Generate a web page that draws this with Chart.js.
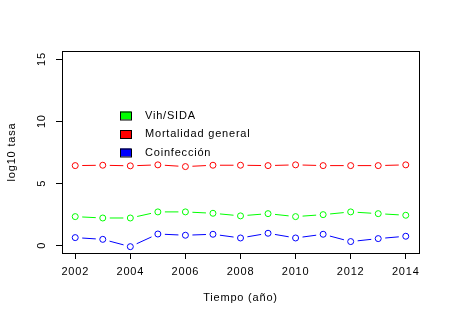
<!DOCTYPE html>
<html>
<head>
<meta charset="utf-8">
<script src="https://cdn.jsdelivr.net/npm/chart.js@4"></script>
<style>
  html, body { margin: 0; padding: 0; background: #fff; }
  #wrap { width: 452px; height: 316px; }
</style>
</head>
<body>
<div id="wrap"><canvas id="grafico"></canvas></div>
<script>
// años
var years = [2002, 2003, 2004, 2005, 2006, 2007, 2008, 2009, 2010, 2011, 2012, 2013, 2014];
// log10 tasa por serie
var vihSida    = [2.31, 2.20, 2.20, 2.69, 2.69, 2.58, 2.37, 2.55, 2.31, 2.47, 2.69, 2.55, 2.42];
var mortalidad = [6.42, 6.45, 6.40, 6.48, 6.34, 6.45, 6.45, 6.42, 6.48, 6.42, 6.42, 6.42, 6.48];
var coinfeccion = [0.62, 0.48, -0.11, 0.91, 0.81, 0.89, 0.59, 0.97, 0.59, 0.89, 0.30, 0.54, 0.73];
// etiquetas de los ejes
var xTicks = [2002, 2004, 2006, 2008, 2010, 2012, 2014];
var yTicks = [0, 5, 10, 15];
var seriesNames = ["Vih/SIDA", "Mortalidad general", "Coinfección"];
var seriesColors = ["#00ff00", "#ff0000", "#0000ff"];

var FONT = '11px "Liberation Sans", Arial, sans-serif';

function pts(vals) {
  return vals.map(function (v, i) { return { x: years[i], y: v }; });
}

// dibuja lineas tipo "b" de R (con huecos alrededor de los puntos), caja, leyenda y textos
var rStyle = {
  id: 'rStyle',
  afterDatasetsDraw: function (chart) {
    var ctx = chart.ctx;
    var a = chart.chartArea;
    var gap = 7;
    ctx.save();
    chart.data.datasets.forEach(function (ds, di) {
      var meta = chart.getDatasetMeta(di);
      ctx.strokeStyle = ds.borderColor;
      ctx.lineWidth = 1;
      for (var i = 0; i < meta.data.length - 1; i++) {
        var p = meta.data[i], q = meta.data[i + 1];
        var dx = q.x - p.x, dy = q.y - p.y;
        var len = Math.sqrt(dx * dx + dy * dy);
        if (len <= 2 * gap) continue;
        var ux = dx / len, uy = dy / len;
        ctx.beginPath();
        ctx.moveTo(p.x + ux * gap, p.y + uy * gap);
        ctx.lineTo(q.x - ux * gap, q.y - uy * gap);
        ctx.stroke();
      }
    });
    ctx.restore();
  },
  afterDraw: function (chart) {
    var ctx = chart.ctx;
    var a = chart.chartArea;
    var xs = chart.scales.x, ys = chart.scales.y;
    ctx.save();
    // caja
    ctx.strokeStyle = '#000';
    ctx.lineWidth = 1;
    ctx.strokeRect(Math.round(a.left) + 0.5, Math.round(a.top) + 0.5,
      Math.round(a.right - a.left), Math.round(a.bottom - a.top));

    ctx.fillStyle = '#000';
    ctx.font = FONT;
    ctx.letterSpacing = '0.8px';
    // etiquetas eje x
    ctx.textAlign = 'center';
    ctx.textBaseline = 'middle';
    xTicks.forEach(function (t) {
      ctx.fillText(String(t), xs.getPixelForValue(t), 272);
    });
    // etiquetas eje y (giradas)
    yTicks.forEach(function (t) {
      ctx.save();
      ctx.translate(42, ys.getPixelForValue(t));
      ctx.rotate(-Math.PI / 2);
      ctx.fillText(String(t), 0, 0);
      ctx.restore();
    });
    // titulos
    ctx.fillText('Tiempo (año)', (a.left + a.right) / 2, 298);
    ctx.save();
    ctx.translate(12, (a.top + a.bottom) / 2);
    ctx.rotate(-Math.PI / 2);
    ctx.fillText('log10 tasa', 0, 0);
    ctx.restore();

    // leyenda
    var rows = [115.5, 134, 152.5];
    ctx.textAlign = 'left';
    seriesNames.forEach(function (name, i) {
      ctx.fillStyle = seriesColors[i];
      ctx.fillRect(120, rows[i] - 4, 11, 8);
      ctx.strokeStyle = '#000';
      ctx.strokeRect(120.5, rows[i] - 3.5, 11, 8);
      ctx.fillStyle = '#000';
      ctx.fillText(name, 145, rows[i]);
    });
    ctx.restore();
  }
};

function ds(label, vals, color) {
  return {
    label: label,
    data: pts(vals),
    borderColor: color,
    backgroundColor: 'rgba(0,0,0,0)',
    showLine: false,
    pointRadius: 3,
    pointBorderWidth: 1,
    pointBorderColor: color,
    pointBackgroundColor: 'rgba(0,0,0,0)',
    pointHoverRadius: 3
  };
}

new Chart(document.getElementById('grafico'), {
  type: 'scatter',
  data: {
    datasets: [
      ds(seriesNames[0], vihSida, seriesColors[0]),
      ds(seriesNames[1], mortalidad, seriesColors[1]),
      ds(seriesNames[2], coinfeccion, seriesColors[2])
    ]
  },
  options: {
    responsive: true,
    maintainAspectRatio: false,
    animation: false,
    layout: { padding: { left: 0, top: 51, right: 33, bottom: 0 } },
    plugins: { legend: { display: false }, tooltip: { enabled: false } },
    scales: {
      x: {
        type: 'linear',
        min: 2001.52,
        max: 2014.48,
        afterBuildTicks: function (s) { s.ticks = xTicks.map(function (v) { return { value: v }; }); },
        afterFit: function (s) { s.height = 63; },
        ticks: { display: false },
        grid: { drawOnChartArea: false, drawTicks: true, tickLength: 6, color: '#000' },
        border: { display: true, color: '#000' }
      },
      y: {
        min: -0.62,
        max: 15.65,
        afterBuildTicks: function (s) { s.ticks = yTicks.map(function (v) { return { value: v }; }); },
        afterFit: function (s) { s.width = 62; },
        ticks: { display: false },
        grid: { drawOnChartArea: false, drawTicks: true, tickLength: 6, color: '#000' },
        border: { display: true, color: '#000' }
      }
    }
  },
  plugins: [rStyle]
});
</script>
</body>
</html>
